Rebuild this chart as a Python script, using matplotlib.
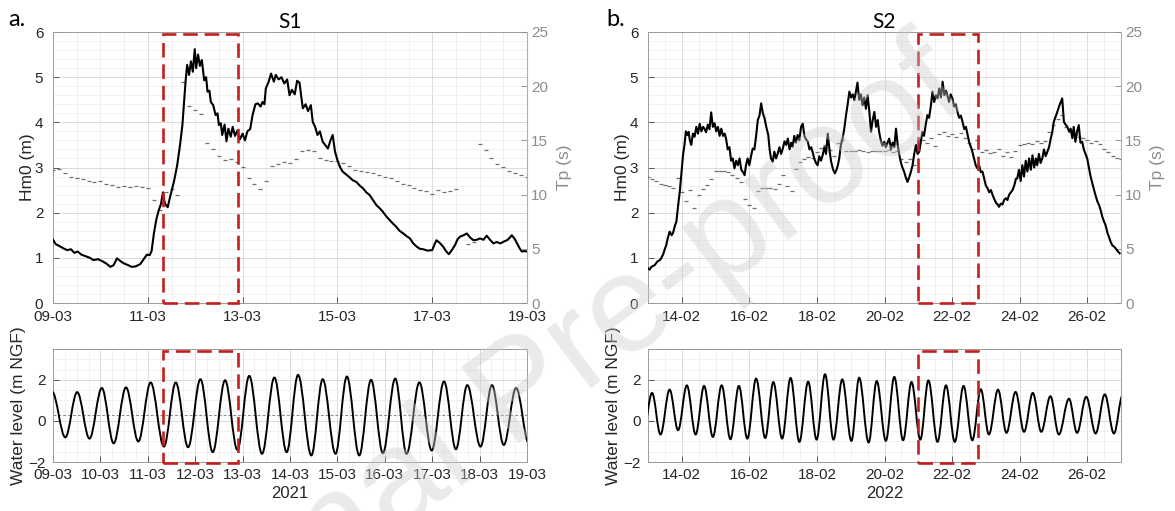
"""Hm0 / Tp and water level time series for storms S1 (2021) and S2 (2022)."""

import matplotlib
matplotlib.use("Agg")
import matplotlib.dates as mdates
import matplotlib.pyplot as plt
import numpy as np
from matplotlib.patches import PathPatch, Rectangle
from matplotlib.path import Path
from matplotlib.ticker import FixedLocator, MultipleLocator


# ═══════════════════════════════════════════════════════════════════════════
# data (time in days from the panel start date)
# ═══════════════════════════════════════════════════════════════════════════

START_A = "2021-03-09"
START_B = "2022-02-13"
DAYS_A = 10
DAYS_B = 14

# Hm0 (m), storm S1
HM0_A_T = [0.00, 0.06, 0.12, 0.22, 0.30, 0.38, 0.45, 0.52, 0.60, 0.70, 0.78, 0.85,
           0.95, 1.05, 1.13, 1.21, 1.28, 1.35, 1.42, 1.49, 1.58, 1.66, 1.74, 1.84,
           1.92, 1.98, 2.04, 2.08, 2.13, 2.18, 2.23, 2.28, 2.32, 2.36, 2.42, 2.47,
           2.55, 2.62, 2.68, 2.73, 2.77, 2.80, 2.83, 2.87, 2.91, 2.95, 2.99, 3.02,
           3.06, 3.10, 3.14, 3.19, 3.23, 3.26, 3.30, 3.33, 3.38, 3.43, 3.47, 3.50,
           3.54, 3.57, 3.62, 3.66, 3.70, 3.75, 3.79, 3.84, 3.89, 3.94, 4.00, 4.05,
           4.10, 4.16, 4.21, 4.27, 4.32, 4.38, 4.42, 4.46, 4.49, 4.55, 4.60, 4.66,
           4.70, 4.76, 4.82, 4.88, 4.94, 4.99, 5.04, 5.10, 5.15, 5.20, 5.27, 5.33,
           5.38, 5.44, 5.48, 5.53, 5.58, 5.63, 5.69, 5.74, 5.80, 5.86, 5.90, 5.95,
           6.01, 6.06, 6.11, 6.18, 6.25, 6.32, 6.40, 6.47, 6.54, 6.61, 6.68, 6.75,
           6.82, 6.89, 6.96, 7.03, 7.10, 7.17, 7.24, 7.31, 7.39, 7.46, 7.53, 7.60,
           7.67, 7.74, 7.81, 7.90, 8.00, 8.05, 8.09, 8.16, 8.23, 8.29, 8.35, 8.42,
           8.48, 8.54, 8.59, 8.66, 8.73, 8.80, 8.87, 8.94, 9.01, 9.08, 9.15, 9.22,
           9.29, 9.36, 9.44, 9.51, 9.58, 9.64, 9.68, 9.74, 9.79, 9.84, 9.89, 9.95,
           10.00]
HM0_A = [1.40, 1.30, 1.27, 1.21, 1.17, 1.19, 1.11, 1.14, 1.07, 1.03, 1.00, 0.95,
         0.97, 0.92, 0.87, 0.80, 0.84, 0.99, 0.93, 0.88, 0.84, 0.80, 0.81, 0.86,
         0.98, 1.07, 1.06, 1.15, 1.55, 1.85, 2.05, 2.20, 2.45, 2.20, 2.12, 2.35,
         2.68, 3.05, 3.50, 3.94, 4.50, 4.95, 5.27, 5.05, 5.35, 5.12, 5.62, 5.20,
         5.50, 5.25, 5.38, 4.93, 5.00, 4.68, 4.70, 4.45, 4.38, 4.16, 4.20, 3.94,
         3.98, 3.72, 3.95, 3.58, 3.86, 3.68, 3.90, 3.70, 3.82, 3.62, 3.75, 3.60,
         3.80, 3.85, 4.16, 4.40, 4.42, 4.35, 4.45, 4.40, 4.75, 4.90, 5.08, 4.90,
         5.05, 4.95, 5.00, 4.86, 4.95, 4.60, 4.72, 4.62, 4.92, 4.88, 4.31, 4.40,
         4.25, 4.38, 4.01, 3.90, 3.72, 3.80, 3.57, 3.50, 3.42, 3.62, 3.72, 3.35,
         3.13, 3.00, 2.91, 2.85, 2.79, 2.72, 2.68, 2.60, 2.54, 2.45, 2.39, 2.28,
         2.17, 2.10, 2.02, 1.92, 1.84, 1.76, 1.69, 1.60, 1.54, 1.48, 1.43, 1.32,
         1.25, 1.20, 1.19, 1.16, 1.17, 1.30, 1.39, 1.33, 1.25, 1.15, 1.08, 1.18,
         1.28, 1.42, 1.47, 1.50, 1.54, 1.45, 1.39, 1.40, 1.43, 1.40, 1.49, 1.40,
         1.32, 1.35, 1.32, 1.36, 1.39, 1.45, 1.50, 1.42, 1.32, 1.22, 1.14, 1.15,
         1.14]

# Hm0 (m), storm S2
HM0_B_T = [0.00, 0.05, 0.10, 0.20, 0.28, 0.35, 0.39, 0.45, 0.50, 0.54, 0.58, 0.64,
           0.70, 0.74, 0.80, 0.84, 0.89, 0.94, 1.00, 1.04, 1.08, 1.12, 1.16, 1.20,
           1.24, 1.28, 1.33, 1.38, 1.43, 1.48, 1.53, 1.58, 1.63, 1.67, 1.72, 1.77,
           1.82, 1.87, 1.92, 1.97, 2.02, 2.07, 2.12, 2.17, 2.22, 2.27, 2.31, 2.36,
           2.41, 2.46, 2.51, 2.56, 2.61, 2.66, 2.71, 2.76, 2.81, 2.86, 2.90, 2.95,
           3.00, 3.05, 3.10, 3.15, 3.20, 3.25, 3.30, 3.35, 3.40, 3.45, 3.50, 3.56,
           3.60, 3.64, 3.69, 3.74, 3.79, 3.84, 3.89, 3.94, 3.99, 4.04, 4.09, 4.14,
           4.19, 4.24, 4.28, 4.33, 4.38, 4.43, 4.48, 4.53, 4.58, 4.63, 4.68, 4.73,
           4.78, 4.83, 4.87, 4.92, 4.97, 5.02, 5.07, 5.12, 5.17, 5.22, 5.27, 5.32,
           5.37, 5.42, 5.48, 5.53, 5.58, 5.62, 5.66, 5.71, 5.76, 5.81, 5.86, 5.91,
           5.96, 6.01, 6.06, 6.11, 6.16, 6.20, 6.25, 6.30, 6.35, 6.40, 6.45, 6.50,
           6.55, 6.60, 6.65, 6.70, 6.75, 6.80, 6.84, 6.89, 6.94, 6.99, 7.04, 7.09,
           7.14, 7.19, 7.24, 7.29, 7.34, 7.39, 7.44, 7.49, 7.53, 7.58, 7.63, 7.68,
           7.73, 7.78, 7.83, 7.88, 7.93, 7.98, 8.03, 8.07, 8.12, 8.17, 8.22, 8.27,
           8.32, 8.37, 8.42, 8.47, 8.52, 8.57, 8.62, 8.67, 8.72, 8.77, 8.82, 8.86,
           8.91, 8.96, 9.01, 9.06, 9.11, 9.16, 9.21, 9.26, 9.31, 9.36, 9.41, 9.46,
           9.51, 9.56, 9.60, 9.65, 9.70, 9.75, 9.80, 9.85, 9.90, 9.95, 10.00, 10.05,
           10.10, 10.15, 10.20, 10.25, 10.30, 10.35, 10.39, 10.44, 10.49, 10.54, 10.59, 10.64,
           10.69, 10.74, 10.79, 10.84, 10.89, 10.93, 10.98, 11.03, 11.08, 11.13, 11.18, 11.23,
           11.28, 11.33, 11.38, 11.43, 11.48, 11.52, 11.57, 11.62, 11.67, 11.72, 11.77, 11.82,
           11.87, 11.92, 11.97, 12.01, 12.10, 12.18, 12.26, 12.31, 12.36, 12.41, 12.46, 12.51,
           12.56, 12.60, 12.65, 12.70, 12.75, 12.80, 12.85, 12.90, 12.95, 13.00, 13.05, 13.10,
           13.15, 13.19, 13.24, 13.30, 13.35, 13.40, 13.45, 13.50, 13.54, 13.60, 13.65, 13.69,
           13.74, 13.79, 13.84, 13.90, 13.96]
HM0_B = [0.77, 0.74, 0.80, 0.84, 0.92, 0.95, 0.99, 1.08, 1.20, 1.28, 1.42, 1.58,
         1.50, 1.55, 1.72, 1.80, 2.15, 2.46, 2.98, 3.30, 3.50, 3.80, 3.72, 3.79,
         3.60, 3.50, 3.75, 3.68, 3.90, 3.75, 3.97, 3.80, 3.90, 3.86, 3.78, 3.95,
         3.85, 4.22, 3.90, 3.98, 3.80, 3.90, 3.70, 3.86, 3.70, 3.75, 3.64, 3.40,
         3.45, 3.15, 3.20, 2.98, 3.15, 3.05, 3.20, 2.95, 2.90, 2.83, 3.05, 3.20,
         3.05, 3.25, 3.42, 3.40, 3.70, 4.05, 4.15, 4.42, 4.20, 4.09, 3.90, 3.72,
         3.40, 3.20, 3.13, 3.35, 3.20, 3.31, 3.45, 3.30, 3.42, 3.58, 3.50, 3.64,
         3.40, 3.55, 3.46, 3.70, 3.55, 3.72, 3.60, 3.90, 3.97, 3.70, 3.62, 3.57,
         3.40, 3.45, 3.35, 3.20, 3.10, 3.05, 3.25, 3.15, 3.27, 3.45, 3.30, 3.75,
         3.40, 3.13, 2.95, 2.87, 2.95, 3.05, 3.20, 3.50, 3.65, 3.86, 4.15, 4.40,
         4.68, 4.55, 4.62, 4.49, 4.70, 4.88, 4.50, 4.62, 4.38, 4.55, 4.30, 4.60,
         4.25, 3.79, 4.05, 4.23, 3.90, 4.05, 3.79, 3.60, 3.48, 3.57, 3.45, 3.55,
         3.64, 3.40, 3.55, 3.45, 3.86, 3.50, 3.27, 3.10, 3.00, 2.91, 2.78, 2.68,
         2.78, 2.90, 3.05, 3.30, 3.50, 3.30, 3.35, 3.55, 3.79, 3.70, 3.95, 4.16,
         4.10, 4.35, 4.68, 4.45, 4.60, 4.53, 4.75, 4.55, 4.90, 4.60, 4.70, 4.60,
         4.45, 4.62, 4.53, 4.35, 4.40, 4.23, 4.10, 4.15, 4.01, 3.85, 3.90, 3.72,
         3.55, 3.45, 3.35, 3.20, 3.05, 2.98, 3.05, 2.90, 2.91, 2.75, 2.60, 2.54,
         2.45, 2.50, 2.39, 2.30, 2.22, 2.18, 2.13, 2.20, 2.18, 2.28, 2.32, 2.28,
         2.40, 2.45, 2.50, 2.60, 2.75, 2.76, 2.95, 2.70, 3.05, 2.80, 3.15, 2.91,
         3.20, 2.95, 3.27, 3.00, 3.20, 3.05, 3.30, 3.10, 3.20, 3.40, 3.25, 3.35,
         3.45, 3.64, 3.80, 4.01, 4.20, 4.38, 4.53, 4.01, 3.95, 3.90, 3.80, 3.86,
         3.65, 3.90, 3.57, 3.80, 3.94, 3.55, 3.57, 3.40, 3.30, 3.20, 3.00, 2.80,
         2.65, 2.54, 2.40, 2.25, 2.17, 2.05, 1.90, 1.80, 1.73, 1.55, 1.45, 1.36,
         1.28, 1.25, 1.21, 1.15, 1.10]

# Tp (s), one reading every 3 h
TP_STEP = 0.125
TP_A = [12.3, 12.4, 12.0, 11.6, 11.5, 11.4, 11.3, 11.2, 11.3, 11.0,
        10.9, 10.7, 10.8, 10.7, 10.8, 10.7, 10.6, 9.5, 8.6, 10.2,
        10.5, 10.0, 20.4, 18.2, 17.8, 17.4, 14.8, 14.2, 13.6, 13.2,
        13.3, 13.0, 12.5, 11.5, 11.0, 10.5, 11.3, 12.6, 12.8, 13.0,
        12.9, 13.3, 14.0, 14.1, 14.0, 13.4, 13.2, 13.1, 13.1, 12.9,
        12.6, 12.3, 12.2, 12.1, 12.0, 11.8, 11.6, 11.5, 11.3, 11.0,
        10.9, 10.6, 10.4, 10.3, 10.1, 10.4, 10.2, 10.3, 10.5, np.nan,
        5.4, 5.6, 14.7, 14.1, 13.4, 12.8, 12.5, 12.2, 12.0, 11.8, 11.6]
TP_B = [11.6, 11.4, 11.3, 11.0, 10.9, 10.8, 10.6, 11.5,
        10.2, 9.4, 10.4, 8.8, 10.0, 10.5, 10.9, 11.4,
        12.2, 12.2, 12.2, 12.1, 11.8, 11.5, 11.2, 9.6,
        9.0, 8.8, 10.3, 10.6, 10.6, 10.6, 10.5, 11.0,
        11.8, 10.8, 10.3, 12.4, 13.0, 13.3, 13.5, 13.4,
        13.9, 14.3, 14.6, 14.1, 13.6, 14.8, 15.0, 14.0,
        14.0, 14.0, 14.1, 14.0, 13.9, 14.0, 14.0, 14.0,
        14.0, 14.1, 13.9, 14.0, 13.3, 13.0, 13.3, 12.7,
        14.4, 15.0, 14.8, 15.2, 14.5, 15.6, 15.8, 15.4,
        15.6, 15.3, 15.7, 15.2, 14.8, 14.2, 15.0, 13.9,
        14.1, 13.8, 13.9, 14.2, 13.6, 13.9, 13.5, 14.0,
        14.6, 14.7, 14.8, 14.7, 14.9, 14.8, 14.9, 15.8,
        16.4, 17.0, 17.3, 16.2, 15.8, 15.5, 15.3, 15.2,
        15.0, 14.8, 14.9, 14.7, 14.2, 13.9, 13.6, 13.4,
        13.3]

# water level (m NGF): successive high / low waters
TIDE_A_T = [-0.02, 0.26, 0.51, 0.77, 1.03, 1.28, 1.54, 1.80, 2.06, 2.34,
            2.59, 2.85, 3.11, 3.37, 3.63, 3.89, 4.14, 4.41, 4.67, 4.93,
            5.17, 5.45, 5.69, 5.96, 6.20, 6.46, 6.71, 6.96, 7.22, 7.46,
            7.73, 7.99, 8.25, 8.50, 8.74, 9.02, 9.26, 9.51, 9.77, 10.04]
TIDE_A = [1.42, -0.80, 1.40, -0.86, 1.60, -1.09, 1.63, -1.00, 1.87, -1.25,
          1.87, -1.28, 2.03, -1.52, 1.98, -1.41, 2.19, -1.60, 2.11, -1.52,
          2.24, -1.68, 2.03, -1.60, 2.16, -1.68, 2.00, -1.57, 2.06, -1.60,
          1.87, -1.44, 1.92, -1.38, 1.74, -1.25, 1.74, -1.17, 1.60, -1.10]
MSL_A = 0.3

TIDE_B_T = [-0.14, 0.12, 0.37, 0.64, 0.89, 1.15, 1.41, 1.66, 1.92, 2.18,
            2.44, 2.69, 2.94, 3.20, 3.47, 3.71, 3.97, 4.22, 4.48, 4.74,
            4.99, 5.24, 5.49, 5.75, 6.02, 6.25, 6.53, 6.77, 7.04, 7.29,
            7.55, 7.80, 8.06, 8.30, 8.57, 8.82, 9.08, 9.34, 9.60, 9.85,
            10.09, 10.36, 10.61, 10.88, 11.13, 11.39, 11.64, 11.91, 12.16, 12.46,
            12.70, 12.97, 13.25, 13.52, 13.79, 14.05]
TIDE_B = [-0.55, 1.36, -0.66, 1.52, -0.45, 1.73, -0.66, 1.70, -0.78, 1.73,
          -0.89, 1.70, -0.86, 2.06, -0.83, 1.89, -0.86, 2.09, -1.02, 1.91,
          -0.91, 2.27, -0.91, 2.02, -0.97, 2.10, -1.05, 1.94, -0.97, 2.14,
          -0.94, 1.89, -0.91, 1.97, -1.02, 1.73, -1.02, 1.70, -0.94, 1.54,
          -0.66, 1.52, -0.58, 1.41, -0.53, 1.36, -0.53, 1.20, -0.66, 1.08,
          -0.58, 1.17, -0.61, 1.29, -0.61, 1.25]

# storm-peak windows (days from start)
BOX_A = (2.32, 3.91)
BOX_B = (8.00, 9.77)

# ═══════════════════════════════════════════════════════════════════════════
# style
# ═══════════════════════════════════════════════════════════════════════════

W, H = 1175, 511
TICK_FONT = "Liberation Sans"
HEAD_FONT = "Lato"
TICK_SIZE = 11
LABEL_SIZE = 12.5
TP_GREY = "#8c8c8c"
RED = "#c41e1e"
SPINE = "#9a9a9a"

plt.rcParams["font.family"] = [TICK_FONT, "DejaVu Sans"]


def _px(left, top, right, bottom):
    return [left / W, 1 - bottom / H, (right - left) / W, (bottom - top) / H]


def _days(start, t):
    return mdates.date2num(np.datetime64(start)) + np.asarray(t, dtype=float)


def _grid(ax, ystep_minor):
    ax.xaxis.set_minor_locator(MultipleLocator(0.5))
    ax.yaxis.set_minor_locator(MultipleLocator(ystep_minor))
    ax.grid(which="major", color="#d4d4d4", lw=0.6)
    ax.grid(which="minor", color="#ececec", lw=0.5)
    ax.set_axisbelow(True)
    ax.tick_params(which="minor", length=0)
    ax.tick_params(which="major", direction="in", length=4, width=0.6,
                   color="#404040", labelsize=TICK_SIZE, labelcolor="#262626")
    for s in ax.spines.values():
        s.set_color(SPINE)
        s.set_linewidth(0.7)


def _tide_path(x, z, k=0.36):
    # smooth curve with flat tangents at each high / low water
    verts = [(x[0], z[0])]
    codes = [Path.MOVETO]
    for i in range(len(x) - 1):
        dx = x[i + 1] - x[i]
        verts += [(x[i] + k * dx, z[i]), (x[i + 1] - k * dx, z[i + 1]), (x[i + 1], z[i + 1])]
        codes += [Path.CURVE4] * 3
    return Path(verts, codes)


def _box(ax, start, box, y0, y1):
    x0, x1 = _days(start, box)
    ax.add_patch(Rectangle((x0, y0), x1 - x0, y1 - y0, fill=False, ec=RED, lw=1.9,
                           ls=(0, (5.5, 2.6)), clip_on=False, zorder=6))


# ═══════════════════════════════════════════════════════════════════════════
# panels
# ═══════════════════════════════════════════════════════════════════════════

def wave_panel(rect, start, ndays, hm0_t, hm0, tp, box, title, tick_step):
    ax = fig.add_axes(rect)
    x0 = _days(start, 0)
    ax.set_xlim(x0, x0 + ndays)
    ax.set_ylim(0, 6)
    ax.set_yticks(range(0, 7))
    first_tick = np.ceil(x0) if ndays == DAYS_A else x0 + 1
    ax.xaxis.set_major_locator(FixedLocator(np.arange(first_tick, x0 + ndays + 0.01, tick_step)))
    ax.xaxis.set_major_formatter(mdates.DateFormatter("%d-%m"))
    _grid(ax, 0.2)
    ax.tick_params(axis="y", pad=7)
    ax.tick_params(axis="x", pad=5)
    ax.set_ylabel("Hm0 (m)", fontsize=LABEL_SIZE, color="#262626", labelpad=0)
    ax.set_title(title, fontsize=15, family=HEAD_FONT, pad=3)

    ax2 = ax.twinx()
    ax2.set_ylim(0, 25)
    ax2.set_yticks(range(0, 26, 5))
    tp_x = _days(start, np.arange(len(tp)) * TP_STEP)
    ax2.plot(tp_x, tp, ls="none", marker="_", ms=2.2, mew=0.9, color="#707070")
    ax2.tick_params(direction="in", length=4, width=0.6, color=TP_GREY,
                    labelsize=TICK_SIZE, labelcolor=TP_GREY, pad=3)
    ax2.set_ylabel("Tp (s)", fontsize=LABEL_SIZE, color=TP_GREY, labelpad=6)
    for s in ax2.spines.values():
        s.set_visible(False)
    ax2.spines["right"].set_visible(True)
    ax2.spines["right"].set_color("#b0b0b0")

    ax3 = ax.twinx()
    ax3.set_ylim(0, 6)
    ax3.axis("off")
    ax3.plot(_days(start, hm0_t), hm0, color="black", lw=1.5)
    _box(ax3, start, box, 0, 5.96)
    return ax


def tide_panel(rect, start, ndays, tide_t, tide, box, year, tick_step, msl=None):
    ax = fig.add_axes(rect)
    x0 = _days(start, 0)
    ax.set_xlim(x0, x0 + ndays)
    ax.set_ylim(-2, 3.5)
    ax.set_yticks([-2, 0, 2])
    first_tick = x0 if ndays == DAYS_A else x0 + 1
    ax.xaxis.set_major_locator(FixedLocator(np.arange(first_tick, x0 + ndays + 0.01, tick_step)))
    ax.xaxis.set_major_formatter(mdates.DateFormatter("%d-%m"))
    _grid(ax, 0.5)
    if ndays == DAYS_A:
        ax.xaxis.set_minor_locator(MultipleLocator(0.25))
    ax.tick_params(axis="y", pad=5)
    ax.tick_params(axis="x", pad=4)
    if msl is not None:
        ax.axhline(msl, ls=(0, (3, 2)), color="#8a8a8a", lw=0.7)
    ax.add_patch(PathPatch(_tide_path(_days(start, tide_t), tide), fill=False,
                           ec="black", lw=1.4, zorder=4))
    _box(ax, start, box, -2.05, 3.42)
    ax.set_ylabel("Water level (m NGF)", fontsize=LABEL_SIZE, color="#262626", labelpad=2)
    ax.set_xlabel(year, fontsize=LABEL_SIZE - 0.5, color="#262626", labelpad=3)
    return ax


if __name__ == "__main__":
    fig = plt.figure(figsize=(W / 100, H / 100), dpi=100)

    wave_panel(_px(53, 32, 527, 303), START_A, DAYS_A, HM0_A_T, HM0_A, TP_A, BOX_A, "S1", 2)
    tide_panel(_px(53, 349, 527, 462), START_A, DAYS_A, TIDE_A_T, TIDE_A, BOX_A, "2021", 1, MSL_A)

    wave_panel(_px(648, 32, 1121, 303), START_B, DAYS_B, HM0_B_T, HM0_B, TP_B, BOX_B, "S2", 2)
    tide_panel(_px(648, 349, 1121, 462), START_B, DAYS_B, TIDE_B_T, TIDE_B, BOX_B, "2022", 2)

    fig.text(8 / W, 1 - 20 / H, "a.", fontsize=17, family=HEAD_FONT, va="center")
    fig.text(606 / W, 1 - 20 / H, "b.", fontsize=17, family=HEAD_FONT, va="center")

    # "Journal Pre-proof" watermark
    fig.text(522 / W, 1 - 395 / H, "Journal Pre-proof", fontsize=100, color="#cccccc",
             alpha=0.4, rotation=37, ha="center", va="center", rotation_mode="anchor",
             family="Liberation Sans", zorder=20)

    fig.savefig("out.png", dpi=100)
